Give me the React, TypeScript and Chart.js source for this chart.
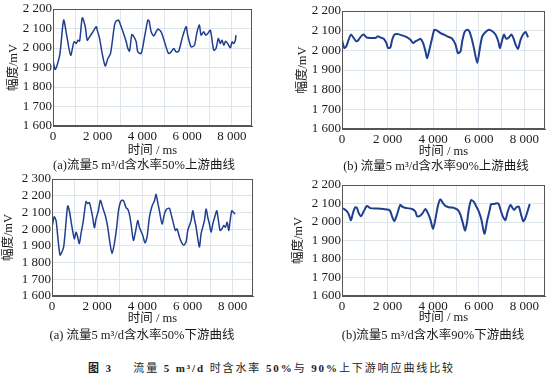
import React, { useEffect, useRef } from "react";
import Chart from "chart.js/auto";

// ---- data (time in ms, amplitude in mV) ----
const tUp50 = [0,100,300,476,620,790,940,1040,1116,1190,1310,1443,1530,1637,1786,1934,1980,2083,2187,2336,2455,2574,2753,2827,2931,3021,3130,3274,3348,3422,3527,3620,3720,3794,3943,4100,4241,4300,4390,4509,4687,4836,4985,5163,5280,5401,5506,5624,5773,5952,6026,6175,6324,6443,6547,6622,6740,6830,6919,7038,7187,7290,7395,7480,7560,7640,7720,7812,7931,8010,8080,8154,8184];
const vUp50 = [1937,1890,1963,2143,2060,1963,2032,2023,2040,2035,2155,2109,2040,2057,2083,2109,2091,2049,1980,1908,1946,1972,2118,2138,2143,2118,2083,2032,1997,1984,2069,2057,2032,1980,1972,2060,2143,2138,2083,2062,2097,2083,2032,1972,1980,1997,1980,1984,2049,2109,2066,2006,2014,2083,2118,2066,2083,2066,2074,2091,1989,1997,2049,2023,2040,2014,2035,2023,2001,2032,2023,2040,2066];

const tUp90 = [0,100,190,290,395,510,630,730,834,950,1070,1244,1464,1566,1680,1830,1947,2020,2123,2200,2298,2420,2635,2855,3001,3118,3220,3367,3440,3557,3660,3733,3850,3953,4055,4172,4319,4465,4610,4831,4977,5080,5197,5270,5373,5490,5580,5680,5783,5929,6046,6149,6295,6442,6588,6730,6851,6925,7027,7100,7200,7320,7423,7510,7613,7716,7832,7950,8052,8155];
const vUp90 = [2054,2012,2020,2054,2080,2063,2046,2054,2071,2080,2066,2063,2063,2071,2066,2059,2037,2012,2015,2054,2080,2083,2076,2066,2054,2037,2046,2054,2059,2037,1995,1961,2012,2063,2105,2100,2088,2080,2071,2059,2029,1986,1995,2046,2093,2105,2097,2063,2012,1936,2012,2071,2093,2105,2097,2080,2046,2012,2054,2080,2059,2066,2080,2063,2029,2008,2054,2083,2093,2066];

const tDown50 = [0,30,100,180,250,355,443,517,590,694,768,886,990,1063,1137,1211,1285,1388,1506,1580,1654,1728,1802,1876,1950,2053,2142,2245,2363,2467,2570,2659,2762,2865,2954,3057,3161,3279,3353,3427,3500,3604,3693,3796,3870,4017,4120,4209,4313,4431,4534,4608,4682,4756,4874,4977,5081,5199,5273,5347,5465,5539,5642,5746,5834,5937,6011,6085,6159,6233,6307,6381,6455,6529,6602,6676,6750,6824,6897,6970,7045,7119,7222,7296,7370,7444,7525,7607,7680,7755,7829,7888,7961,8035,8109];
const vDown50 = [2012,2031,2074,2051,1963,1845,1865,1894,1992,2139,2110,2012,1943,1982,1953,1914,1973,2051,2165,2153,2159,2120,2071,2008,2061,2110,2172,2129,2080,2012,1914,1855,1914,2012,2120,2169,2172,2129,2120,2090,2031,1933,1982,2051,2012,1963,1918,1953,2071,2139,2169,2208,2159,2110,2031,2090,2120,2125,2090,2051,1992,2002,1953,1918,1904,1924,1992,2022,2051,2110,2061,2012,1943,1894,1973,2012,2051,2120,2071,2031,1982,2031,2080,2110,2051,1992,2002,2022,2012,2041,1992,2051,2110,2100,2090];

const tDown90 = [0,100,220,300,395,482,585,660,730,833,950,1096,1243,1535,1827,2047,2120,2193,2295,2412,2558,2675,2851,3070,3216,3290,3436,3540,3655,3760,3874,3991,4094,4196,4313,4430,4530,4678,4820,4927,5073,5190,5292,5395,5480,5556,5658,5775,5892,5994,6111,6243,6360,6477,6535,6652,6769,6871,6950,7047,7164,7266,7383,7480,7559,7646,7750,7851,7939,8000,8114,8231];
const vDown90 = [2075,2070,2057,2040,2010,2049,2080,2075,2049,2031,2057,2087,2075,2073,2070,2066,2057,2031,2005,2040,2092,2080,2075,2070,2057,2031,2035,2049,2070,2049,2014,1962,2014,2083,2122,2101,2087,2080,2078,2075,2066,2040,1997,1953,1997,2066,2118,2110,2083,2057,2014,1936,2005,2066,2097,2097,2101,2097,2066,2031,2010,2057,2092,2075,2066,2080,2083,2040,2005,2010,2049,2097];

// x grid every 1000 ms, labels every 2000 ms
const xGridTicks = [0, 1000, 2000, 3000, 4000, 5000, 6000, 7000, 8000];
const xLabelTicks = [0, 2000, 4000, 6000, 8000];

const xTitle = "时间 / ms";
const yTitle = "幅度/mV";
const captions = [
  "(a)流量5 m³/d含水率50%上游曲线",
  "(b) 流量5 m³/d含水率90%上游曲线",
  "(a) 流量5 m³/d含水率50%下游曲线",
  "(b)流量5 m³/d含水率90%下游曲线",
];

const LINE = "#1f3f8f";
const GRID = "#dfe5ec";
const AXIS = "#555555";
const TEXT = "#1a1a1a";
const FAMILY = '"Liberation Serif", "Noto Sans CJK SC", serif';
const W = 277;
const H = 160;

const fmt = (v: number) =>
  v >= 1000 ? `${Math.floor(v / 1000)} ${String(v % 1000).padStart(3, "0")}` : String(v);

const framePlugin = {
  id: "frame",
  afterDraw(chart: any) {
    const { ctx, chartArea: a } = chart;
    ctx.save();
    ctx.strokeStyle = AXIS;
    ctx.lineWidth = 1;
    const l = Math.round(a.left) + 0.5;
    const t = Math.round(a.top) + 0.5;
    const r = Math.round(a.right) - 0.5;
    const b = Math.round(a.bottom) - 0.5;
    ctx.strokeRect(l, t, r - l, b - t);
    ctx.restore();
  },
};

type Panel = {
  t: number[]; v: number[]; ymax: number; lw: number;
  left: number; right: number; top: number; bottom: number;
  xtPad: number; ytPad: number; cx: number; cy: number;
};

const panels: Panel[] = [
  { t: tUp50, v: vUp50, ymax: 2200, lw: 1.5, left: 53, right: 252, top: 9, bottom: 126, xtPad: 2, ytPad: 6, cx: 0, cy: 0 },
  { t: tUp90, v: vUp90, ymax: 2200, lw: 2, left: 65, right: 268, top: 11, bottom: 129, xtPad: 1, ytPad: 18, cx: 277, cy: 0 },
  { t: tDown50, v: vDown50, ymax: 2300, lw: 1.5, left: 52, right: 253, top: 11, bottom: 128, xtPad: 2, ytPad: 1.5, cx: 0, cy: 168 },
  { t: tDown90, v: vDown90, ymax: 2200, lw: 2, left: 65, right: 268, top: 17, bottom: 128, xtPad: 2.5, ytPad: 14.5, cx: 277, cy: 168 },
];

function ChartPanel({ p }: { p: Panel }) {
  const ref = useRef<HTMLCanvasElement>(null);
  useEffect(() => {
    if (!ref.current) return;
    const tickFont = { family: FAMILY, size: 13 };
    const titleFont = { family: FAMILY, size: 12.5 };
    const chart = new Chart(ref.current, {
      type: "line",
      data: {
        datasets: [
          {
            data: p.t.map((x, i) => ({ x, y: p.v[i] })),
            borderColor: LINE,
            borderWidth: p.lw,
            pointRadius: 0,
            tension: 0.25,
            fill: false,
          },
        ],
      },
      options: {
        responsive: false,
        animation: false,
        events: [],
        layout: { padding: { top: p.top, right: W - p.right, left: 0, bottom: 0 } },
        plugins: { legend: { display: false }, tooltip: { enabled: false } },
        scales: {
          x: {
            type: "linear",
            min: 0,
            max: 8900,
            afterBuildTicks: (s: any) => {
              s.ticks = xGridTicks.map((value) => ({ value }));
            },
            ticks: {
              autoSkip: false,
              maxRotation: 0,
              padding: 3,
              font: tickFont,
              color: TEXT,
              callback: (v: any) => (xLabelTicks.includes(Number(v)) ? fmt(Number(v)) : ""),
            },
            grid: { color: GRID, drawTicks: false },
            border: { color: AXIS },
            title: { display: true, text: xTitle, font: titleFont, color: TEXT, padding: { top: 0, bottom: p.xtPad } },
            afterFit: (s: any) => { s.height = H - p.bottom; },
          },
          y: {
            type: "linear",
            min: 1600,
            max: p.ymax,
            ticks: { stepSize: 100, autoSkip: false, padding: 1, font: tickFont, color: TEXT, callback: (v: any) => fmt(Number(v)) },
            grid: { color: GRID, drawTicks: false },
            border: { color: AXIS },
            title: { display: true, text: yTitle, font: titleFont, color: TEXT, padding: { top: p.ytPad, bottom: 0 } },
            afterFit: (s: any) => { s.width = p.left; },
          },
        },
      } as any,
      plugins: [framePlugin],
    });
    return () => chart.destroy();
  }, [p]);
  return (
    <canvas
      ref={ref}
      width={W}
      height={H}
      style={{ position: "absolute", left: p.cx, top: p.cy, width: W, height: H, display: "block" }}
    />
  );
}

const capStyle = (cx: number, cy: number): React.CSSProperties => ({
  position: "absolute",
  left: cx - 150,
  width: 300,
  top: cy - 9,
  height: 18,
  lineHeight: "18px",
  textAlign: "center",
  fontFamily: FAMILY,
  fontSize: 12.5,
  color: TEXT,
  whiteSpace: "nowrap",
});

export default function App() {
  const capPos = [
    [144, 165],
    [436, 166],
    [142, 335],
    [433, 335],
  ];
  return (
    <div style={{ position: "absolute", left: 0, top: 0, width: 554, height: 382, background: "#fff", overflow: "hidden" }}>
      {panels.map((p, i) => (
        <ChartPanel key={i} p={p} />
      ))}
      {captions.map((c, i) => (
        <div key={i} style={capStyle(capPos[i][0], capPos[i][1])}>{c}</div>
      ))}
      <div
        style={{
          position: "absolute",
          left: 88,
          top: 360,
          height: 16,
          lineHeight: "16px",
          fontFamily: FAMILY,
          fontSize: 11,
          letterSpacing: 1.9,
          color: "#222",
          whiteSpace: "nowrap",
        }}
      >
        <b>图 3</b>
        <span>{"\u2003\u2002"}流量 </span>
        <b>5 m³/d</b>
        <span> 时含水率 </span>
        <b>50%</b>
        <span>与 </span>
        <b>90%</b>
        <span>上下游响应曲线比较</span>
      </div>
    </div>
  );
}
